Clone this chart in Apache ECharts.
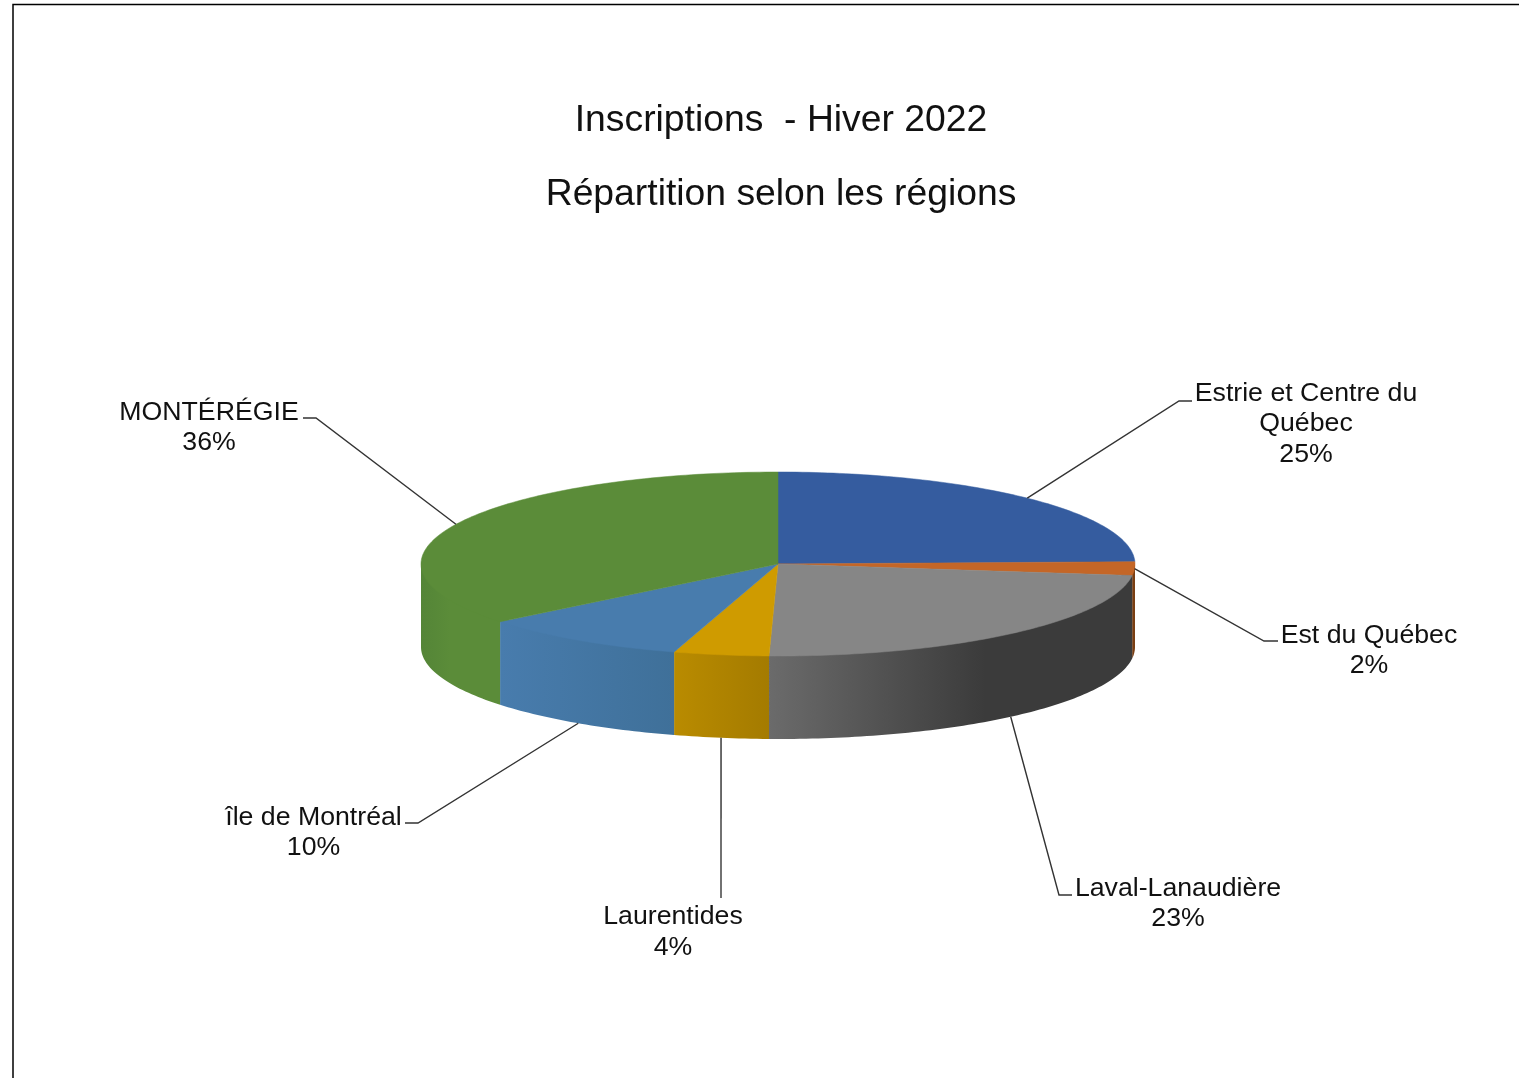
<!DOCTYPE html>
<html>
<head>
<meta charset="utf-8">
<style>html,body{margin:0;padding:0;background:#fff}#c{width:1519px;height:1078px}</style>
<script src="https://cdn.jsdelivr.net/npm/echarts@6/dist/echarts.min.js"></script>
</head>
<body>
<div id="c"></div>
<script>
var categories = ['Estrie et Centre du\nQuébec', 'Est du Québec', 'Laval-Lanaudière', 'Laurentides', 'île de Montréal', 'MONTÉRÉGIE'];
var shares = [24.6, 2.4, 23.4, 4.3, 9.5, 35.8];
var topColors = ['#355c9f', '#c46627', '#868686', '#cf9b00', '#487cad', '#5b8c39'];
var wallStops = [
  [[1135, '#2a4a80'], [1135, '#2a4a80']],
  [[1132, '#7a3e12'], [1135, '#7a3e12']],
  [[769, '#6b6b6b'], [985, '#3b3b3b'], [1135, '#3b3b3b']],
  [[675, '#b98b00'], [769, '#a47b00']],
  [[500, '#487cad'], [675, '#3f7099']],
  [[421, '#548537'], [450, '#5b8c39'], [500, '#5b8c39']]
];
var labelCenters = [[1306, 424], [1369, 650.5], [1178, 903.5], [673, 932], [313.5, 832.5], [209, 427.5]];
var leaderBends = [
  [[1179, 401], [1192, 401]],
  [[1264, 641], [1278, 641]],
  [[1059, 895], [1072, 895]],
  [[721, 898]],
  [[418, 823], [405, 823]],
  [[316, 418], [303, 418]]
];
var CX = 778, CY = 564, RX = 357, RY = 92, DEPTH = 83;
var LABEL_FONT = '26.7px "Liberation Sans", Arial, sans-serif';

function rim(deg, drop, k) {
  var r = deg * Math.PI / 180, s = k || 1;
  return [CX + s * RX * Math.sin(r), CY - s * RY * Math.cos(r) + (drop || 0)];
}
function arc(a, b, drop, k) {
  var pts = [], n = Math.max(2, Math.ceil(Math.abs(b - a)));
  for (var i = 0; i <= n; i++) pts.push(rim(a + (b - a) * i / n, drop, k));
  return pts;
}
var total = shares.reduce(function (s, v) { return s + v; }, 0);
var running = 0;
var seriesData = shares.map(function (v, i) {
  var item = { name: categories[i], value: [v, running] };
  running += v;
  return item;
});

function renderItem(params, api) {
  var i = params.dataIndex;
  var share = api.value(0), start = api.value(1);
  var a0 = start / total * 360, a1 = (start + share) / total * 360, mid = (a0 + a1) / 2;
  var kids = [];
  var w0 = Math.max(a0, 90), w1 = Math.min(a1, 270);
  if (w1 > w0) {
    var stops = wallStops[i], x0 = stops[0][0], x1 = stops[stops.length - 1][0];
    var fill = new echarts.graphic.LinearGradient(x0, 0, x1, 0, stops.map(function (s) {
      return { offset: x1 > x0 ? (s[0] - x0) / (x1 - x0) : 0, color: s[1] };
    }), true);
    // The wall's upper edge runs a little inside the top face, so no white seam shows along the rim.
    kids.push({
      type: 'polygon', z2: 1,
      shape: { points: arc(w0, w1, DEPTH).concat([rim(w1, 0)], arc(w1, w0, 0, 0.97), [rim(w0, 0)]) },
      style: { fill: fill, stroke: null }
    });
  }
  kids.push({
    type: 'polygon', z2: 2,
    shape: { points: [[CX, CY]].concat(arc(a0, a1, 0)) },
    style: { fill: topColors[i], stroke: topColors[i], lineWidth: 0.5 }
  });
  var front = mid > 110 && mid < 270;
  var anchor = rim(mid, front ? DEPTH : 0);
  kids.push({
    type: 'polyline', z2: 3,
    shape: { points: [anchor].concat(leaderBends[i]) },
    style: { fill: null, stroke: '#333', lineWidth: 1.4 }
  });
  kids.push({
    type: 'text', z2: 4,
    style: {
      x: labelCenters[i][0], y: labelCenters[i][1],
      text: categories[i] + '\n' + Math.round(share) + '%',
      font: LABEL_FONT, lineHeight: 30.7, align: 'center', verticalAlign: 'middle', fill: '#111'
    }
  });
  return { type: 'group', children: kids };
}

var chart = echarts.init(document.getElementById('c'), null, { renderer: 'canvas' });
chart.setOption({
  animation: false,
  backgroundColor: '#fff',
  title: {
    text: 'Inscriptions  - Hiver 2022\nRépartition selon les régions',
    left: 776, top: 79, textAlign: 'center',
    textStyle: { fontFamily: '"Liberation Sans", Arial, sans-serif', fontSize: 37.3, fontWeight: 'normal', color: '#111', lineHeight: 74 }
  },
  graphic: [
    { type: 'polyline', shape: { points: [[13, 1078], [13, 4.5], [1519, 4.5]] }, style: { fill: null, stroke: '#000', lineWidth: 1.5 } }
  ],
  series: [{
    type: 'custom',
    coordinateSystem: 'none',
    renderItem: renderItem,
    data: seriesData
  }]
});
</script>
</body>
</html>
